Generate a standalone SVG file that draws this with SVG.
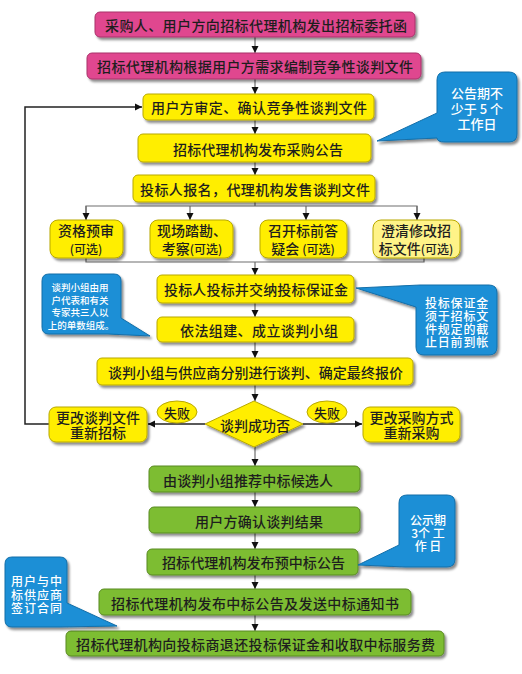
<svg xmlns="http://www.w3.org/2000/svg" width="522" height="674" viewBox="0 0 522 674">
<defs>
<style>
text{font-family:"Noto Sans CJK SC","Noto Sans",sans-serif;font-size:14px;fill:#1e1e1e;text-anchor:middle;dominant-baseline:central;font-weight:500}
.pink{fill:#E0468F;stroke:#A8336A;stroke-width:1}
.yel{fill:#FFEE00;stroke:#B8A800;stroke-width:1}
.ylt{fill:#FFF388;stroke:#B8A800;stroke-width:1}
.grn{fill:#7DBD33;stroke:#5A8A22;stroke-width:1}
.blue{fill:#1A8FD6;stroke:#136EA8;stroke-width:1}
.ct{fill:#ffffff;font-size:13px}
.cm{fill:#ffffff;font-size:12px}
.cs{fill:#ffffff;font-size:9.5px}
.sm{font-size:12px}
.con{fill:none;stroke:#6e6e6e;stroke-width:1.2}
.dk{fill:none;stroke:#222;stroke-width:1.5}
</style>
<filter id="sh" x="-10%" y="-20%" width="125%" height="150%">
<feDropShadow dx="2" dy="2.5" stdDeviation="1.2" flood-color="#000" flood-opacity="0.45"/>
</filter>
<marker id="ar" markerWidth="8" markerHeight="8" refX="7" refY="4" orient="auto" markerUnits="userSpaceOnUse">
<path d="M0,0.5 L7,4 L0,7.5 Z" fill="#111"/>
</marker>
</defs>
<rect width="522" height="674" fill="#ffffff"/>

<g id="connectors">
<path class="con" d="M255,37 V53" marker-end="url(#ar)"/>
<path class="con" d="M255,79 V94" marker-end="url(#ar)"/>
<path class="con" d="M255,120 V134" marker-end="url(#ar)"/>
<path class="con" d="M255,162 V175" marker-end="url(#ar)"/>
<path class="con" d="M255,202 V206 M86,220 V206 H417 V220"/>
<path class="con" d="M86,206 V220" marker-end="url(#ar)"/>
<path class="con" d="M190,206 V220" marker-end="url(#ar)"/>
<path class="con" d="M306,206 V220" marker-end="url(#ar)"/>
<path class="con" d="M417,206 V220" marker-end="url(#ar)"/>
<path class="con" d="M86,258 V262 H424 V258"/>
<path class="con" d="M255,262 V275" marker-end="url(#ar)"/>
<path class="con" d="M255,303 V317" marker-end="url(#ar)"/>
<path class="con" d="M255,342 V358" marker-end="url(#ar)"/>
<path class="con" d="M255,385 V401" marker-end="url(#ar)"/>
<path class="con" d="M255,447 V466" marker-end="url(#ar)"/>
<path class="con" d="M255,492 V507" marker-end="url(#ar)"/>
<path class="con" d="M255,533 V549" marker-end="url(#ar)"/>
<path class="con" d="M255,575 V589" marker-end="url(#ar)"/>
<path class="con" d="M255,615 V631" marker-end="url(#ar)"/>
<path class="dk" d="M205,424 H148" marker-end="url(#ar)"/>
<path class="dk" d="M303,424 H362" marker-end="url(#ar)"/>
<path class="dk" d="M49,424 H25 V107 H142" marker-end="url(#ar)"/>
</g>

<g id="n1"><rect class="pink" x="95" y="12" width="320" height="25" rx="5" filter="url(#sh)"/><text x="256" y="25" textLength="302" lengthAdjust="spacing">采购人、用户方向招标代理机构发出招标委托函</text></g>
<g id="n2"><rect class="pink" x="87" y="53" width="334" height="26" rx="5" filter="url(#sh)"/><text x="255" y="66" textLength="316" lengthAdjust="spacing">招标代理机构根据用户方需求编制竞争性谈判文件</text></g>
<g id="n3"><rect class="yel" x="143" y="94" width="231" height="26" rx="5" filter="url(#sh)"/><text x="259" y="107" textLength="216" lengthAdjust="spacing">用户方审定、确认竞争性谈判文件</text></g>
<g id="n4"><rect class="yel" x="138" y="134" width="233" height="28" rx="5" filter="url(#sh)"/><text x="258" y="149" textLength="170" lengthAdjust="spacing">招标代理机构发布采购公告</text></g>
<g id="n5"><rect class="yel" x="133" y="175" width="242" height="27" rx="5" filter="url(#sh)"/><text x="255" y="189" textLength="230" lengthAdjust="spacing">投标人报名，代理机构发售谈判文件</text></g>

<g id="n6"><rect class="yel" x="50" y="220" width="73" height="38" rx="8" filter="url(#sh)"/><text><tspan x="86" y="230">资格预审</tspan><tspan class="sm" x="86" y="248">(可选)</tspan></text></g>
<g id="n7"><rect class="yel" x="150" y="220" width="83" height="38" rx="8" filter="url(#sh)"/><text><tspan x="192" y="230">现场踏勘、</tspan><tspan x="192" y="248">考察<tspan class="sm">(可选)</tspan></tspan></text></g>
<g id="n8"><rect class="yel" x="260" y="220" width="87" height="38" rx="8" filter="url(#sh)"/><text><tspan x="303" y="230">召开标前答</tspan><tspan x="303" y="248">疑会 <tspan class="sm">(可选)</tspan></tspan></text></g>
<g id="n9"><rect class="ylt" x="373" y="220" width="87" height="38" rx="8" filter="url(#sh)"/><text><tspan x="416" y="230">澄清修改招</tspan><tspan x="416" y="248">标文件<tspan class="sm">(可选)</tspan></tspan></text></g>

<g id="n10"><rect class="yel" x="157" y="275" width="197" height="28" rx="5" filter="url(#sh)"/><text x="256" y="289" textLength="184" lengthAdjust="spacing">投标人投标并交纳投标保证金</text></g>
<g id="n11"><rect class="yel" x="157" y="317" width="197" height="25" rx="5" filter="url(#sh)"/><text x="259" y="330" textLength="158" lengthAdjust="spacing">依法组建、成立谈判小组</text></g>
<g id="n12"><rect class="yel" x="97" y="358" width="316" height="27" rx="5" filter="url(#sh)"/><text x="255.5" y="372" textLength="295" lengthAdjust="spacing">谈判小组与供应商分别进行谈判、确定最终报价</text></g>

<g id="n13"><polygon class="yel" points="254,401 303,424 254,447 205,424" filter="url(#sh)"/><text x="255" y="425" textLength="70" lengthAdjust="spacing">谈判成功否</text></g>
<g id="n14"><rect class="yel" x="49" y="407" width="98" height="35" rx="7" filter="url(#sh)"/><text><tspan x="98" y="417">更改谈判文件</tspan><tspan x="98" y="432">重新招标</tspan></text></g>
<g id="n15"><rect class="yel" x="363" y="407" width="97" height="35" rx="7" filter="url(#sh)"/><text><tspan x="411.5" y="417">更改采购方式</tspan><tspan x="411.5" y="432">重新采购</tspan></text></g>
<g id="n16"><ellipse class="yel" cx="177" cy="412" rx="20" ry="11"/><text x="177" y="412" style="font-size:13px">失败</text></g>
<g id="n17"><ellipse class="yel" cx="327" cy="412" rx="20" ry="11"/><text x="327" y="412" style="font-size:13px">失败</text></g>

<g id="n18"><rect class="grn" x="149" y="466" width="211" height="26" rx="5" filter="url(#sh)"/><text x="248" y="480" textLength="170" lengthAdjust="spacing">由谈判小组推荐中标候选人</text></g>
<g id="n19"><rect class="grn" x="149" y="507" width="211" height="26" rx="5" filter="url(#sh)"/><text x="259" y="521" textLength="128" lengthAdjust="spacing">用户方确认谈判结果</text></g>
<g id="n20"><rect class="grn" x="147" y="549" width="211" height="26" rx="5" filter="url(#sh)"/><text x="253.5" y="562" textLength="183" lengthAdjust="spacing">招标代理机构发布预中标公告</text></g>
<g id="n21"><rect class="grn" x="99" y="589" width="312" height="26" rx="5" filter="url(#sh)"/><text x="255" y="603" textLength="288" lengthAdjust="spacing">招标代理机构发布中标公告及发送中标通知书</text></g>
<g id="n22"><rect class="grn" x="66" y="631" width="378" height="25" rx="5" filter="url(#sh)"/><text x="255.5" y="644" textLength="359" lengthAdjust="spacing">招标代理机构向投标商退还投标保证金和收取中标服务费</text></g>

<g id="c1"><path class="blue" filter="url(#sh)" d="M445,72 H509 Q517,72 517,80 V134 Q517,142 509,142 H445 Q437,142 437,138 L377,141 L437,113 V80 Q437,72 445,72 Z"/><text class="ct"><tspan x="477" y="92">公告期不</tspan><tspan x="477" y="108">少于 5 个</tspan><tspan x="477" y="123">工作日</tspan></text></g>
<g id="c2"><path class="blue" filter="url(#sh)" d="M49,274 H114 Q121,274 121,281 V318 L150,336 L108,334 H49 Q42,334 42,327 V281 Q42,274 49,274 Z"/><text class="cs"><tspan x="80" y="287">谈判小组由用</tspan><tspan x="80" y="299.5">户代表和有关</tspan><tspan x="80" y="312">专家共三人以</tspan><tspan x="81" y="324.5">上的单数组成。</tspan></text></g>
<g id="c3"><path class="blue" filter="url(#sh)" d="M416,307 L356,288 L420,285 H489 Q497,285 497,293 V347 Q497,355 489,355 H424 Q416,355 416,347 Z"/><text class="cm" style="letter-spacing:0.8px"><tspan x="457" y="301.5">投标保证金</tspan><tspan x="457" y="314.5">须于招标文</tspan><tspan x="457" y="327.5">件规定的截</tspan><tspan x="457" y="340.5">止日前到帐</tspan></text></g>
<g id="c4"><path class="blue" filter="url(#sh)" d="M407,495 H447 Q455,495 455,503 V559 Q455,567 447,567 H405 L358,565 L399,545 V503 Q399,495 407,495 Z"/><text class="cm"><tspan x="428" y="519">公示期</tspan><tspan x="428" y="532">3个 工</tspan><tspan x="428" y="545">作 日</tspan></text></g>
<g id="c5"><path class="blue" filter="url(#sh)" d="M12,557 H60 Q67,557 67,564 V603 L117,626 L60,627 H12 Q5,627 5,620 V564 Q5,557 12,557 Z"/><text class="cm" style="letter-spacing:1px"><tspan x="37" y="580">用户与中</tspan><tspan x="37" y="593.5">标供应商</tspan><tspan x="37" y="607">签订合同</tspan></text></g>
</svg>
